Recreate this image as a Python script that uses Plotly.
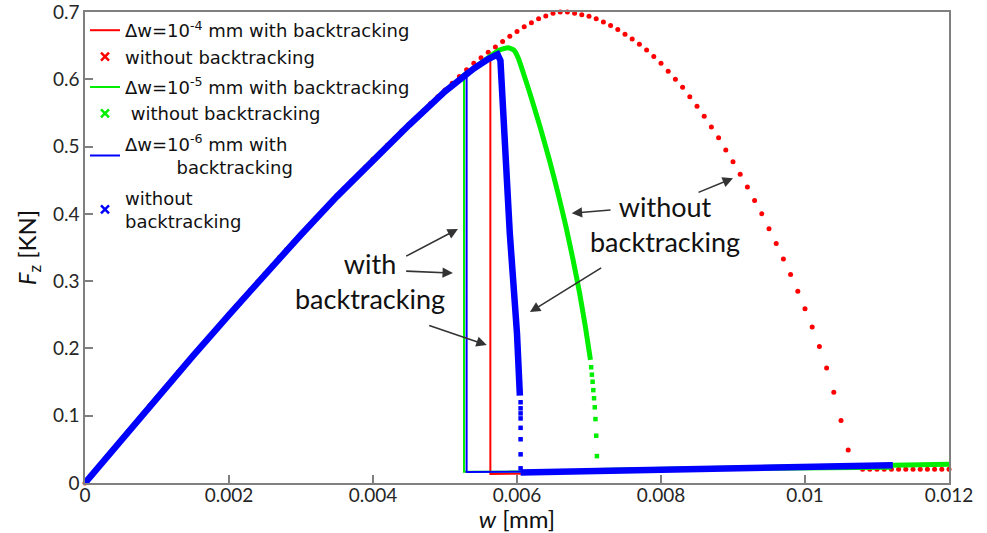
import plotly.graph_objects as go

# ---------------- data ----------------
# Δw = 1e-4 mm, without backtracking (dots every 1e-4 mm)
red_wo_w = [0.0000, 0.0001, 0.0002, 0.0003, 0.0004, 0.0005, 0.0006, 0.0007, 0.0008, 0.0009,
            0.0010, 0.0011, 0.0012, 0.0013, 0.0014, 0.0015, 0.0016, 0.0017, 0.0018, 0.0019,
            0.0020, 0.0021, 0.0022, 0.0023, 0.0024, 0.0025, 0.0026, 0.0027, 0.0028, 0.0029,
            0.0030, 0.0031, 0.0032, 0.0033, 0.0034, 0.0035, 0.0036, 0.0037, 0.0038, 0.0039,
            0.0040, 0.0041, 0.0042, 0.0043, 0.0044, 0.0045, 0.0046, 0.0047, 0.0048, 0.0049,
            0.0050, 0.0051, 0.0052, 0.0053, 0.0054, 0.0055, 0.0056, 0.0057, 0.0058, 0.0059,
            0.0060, 0.0061, 0.0062, 0.0063, 0.0064, 0.0065, 0.0066, 0.0067, 0.0068, 0.0069,
            0.0070, 0.0071, 0.0072, 0.0073, 0.0074, 0.0075, 0.0076, 0.0077, 0.0078, 0.0079,
            0.0080, 0.0081, 0.0082, 0.0083, 0.0084, 0.0085, 0.0086, 0.0087, 0.0088, 0.0089,
            0.0090, 0.0091, 0.0092, 0.0093, 0.0094, 0.0095, 0.0096, 0.0097, 0.0098, 0.0099,
            0.0100, 0.0101, 0.0102, 0.0103, 0.0104, 0.0105, 0.0106, 0.0107, 0.0108, 0.0109,
            0.0110, 0.0111, 0.0112, 0.0113, 0.0114, 0.0115, 0.0116, 0.0117, 0.0118, 0.0119,
            0.0120]
red_wo_F = [0.000, 0.012, 0.025, 0.038, 0.051, 0.064, 0.077, 0.089, 0.102, 0.115,
            0.127, 0.140, 0.152, 0.165, 0.177, 0.189, 0.202, 0.214, 0.226, 0.238,
            0.251, 0.263, 0.275, 0.287, 0.299, 0.311, 0.323, 0.335, 0.347, 0.358,
            0.370, 0.381, 0.393, 0.404, 0.415, 0.427, 0.438, 0.449, 0.459, 0.470,
            0.481, 0.491, 0.502, 0.512, 0.523, 0.533, 0.543, 0.553, 0.564, 0.574,
            0.584, 0.594, 0.604, 0.614, 0.624, 0.632, 0.640, 0.648, 0.656, 0.664,
            0.671, 0.678, 0.684, 0.690, 0.694, 0.698, 0.700, 0.700, 0.698, 0.696,
            0.6935, 0.690, 0.685, 0.680, 0.674, 0.667, 0.660, 0.652, 0.6435, 0.634,
            0.624, 0.612, 0.600, 0.588, 0.574, 0.560, 0.545, 0.529, 0.513, 0.495,
            0.4775, 0.459, 0.440, 0.420, 0.400, 0.378, 0.356, 0.333, 0.310, 0.285,
            0.259, 0.232, 0.203, 0.171, 0.135, 0.093, 0.049, 0.026, 0.0203, 0.0203,
            0.0203, 0.0203, 0.0203, 0.0203, 0.0203, 0.0203, 0.0203, 0.0203, 0.0203, 0.0203,
            0.0203]

# Δw = 1e-4 mm, with backtracking (thin line)
red_bt_w = [0, 0.001, 0.002, 0.003, 0.004, 0.005, 0.0054, 0.00563, 0.00563, 0.0060, 0.0065]
red_bt_F = [0, 0.127, 0.250, 0.369, 0.480, 0.582, 0.616, 0.634, 0.0134, 0.0137, 0.0142]

# Δw = 1e-5 mm, with backtracking (thin line)
green_bt_w = [0, 0.001, 0.002, 0.003, 0.004, 0.005, 0.005264, 0.005264, 0.006, 0.008, 0.010, 0.0112]
green_bt_F = [0, 0.127, 0.250, 0.369, 0.480, 0.582, 0.609, 0.0168, 0.0172, 0.0185, 0.0200, 0.0210]

# Δw = 1e-5 mm, without backtracking (dense points -> continuous band, sparse near the bottom)
green_wo_w = [0, 0.001, 0.002, 0.003, 0.004, 0.005, 0.0054, 0.0056, 0.00575, 0.00588, 0.00596,
              0.00602, 0.00608, 0.00618, 0.00632, 0.00645, 0.00657, 0.00668, 0.00678, 0.00687,
              0.00695, 0.00702]
green_wo_F = [0, 0.127, 0.250, 0.369, 0.480, 0.582, 0.616, 0.632, 0.643, 0.647, 0.643,
              0.631, 0.612, 0.579, 0.5295, 0.480, 0.4305, 0.381, 0.331, 0.282,
              0.232, 0.183]
green_wo_sparse_w = [0.00703, 0.00704, 0.00705, 0.00706, 0.00707, 0.00708, 0.00709, 0.00710, 0.00711]
green_wo_sparse_F = [0.172, 0.161, 0.1505, 0.138, 0.126, 0.1125, 0.095, 0.0703, 0.040]
green_wo_tail_w = [0.00712, 0.008, 0.009, 0.010, 0.011, 0.012]
green_wo_tail_F = [0.0185, 0.0205, 0.0225, 0.0245, 0.0268, 0.0278]

# Δw = 1e-6 mm, with backtracking (thin line)
blue_bt_w = [0, 0.001, 0.002, 0.003, 0.004, 0.005, 0.0053, 0.0053, 0.0060, 0.0065]
blue_bt_F = [0, 0.127, 0.250, 0.369, 0.480, 0.582, 0.612, 0.0165, 0.0168, 0.0172]

# Δw = 1e-6 mm, without backtracking
blue_wo_w = [0, 0.0005, 0.001, 0.0015, 0.002, 0.0025, 0.003, 0.0035, 0.004, 0.0045, 0.005,
             0.0052, 0.0054, 0.0056, 0.00568, 0.00573, 0.00577, 0.0058, 0.0059, 0.0060, 0.00604]
blue_wo_F = [0, 0.064, 0.127, 0.189, 0.250, 0.310, 0.369, 0.426, 0.480, 0.532, 0.582,
             0.600, 0.616, 0.630, 0.636, 0.637, 0.628, 0.565, 0.371, 0.222, 0.130]
blue_wo_sparse_w = [0.00605, 0.00605, 0.00605, 0.00605, 0.00605, 0.00605, 0.00605, 0.00605]
blue_wo_sparse_F = [0.120, 0.111, 0.1035, 0.096, 0.082, 0.065, 0.0426, 0.0218]
blue_wo_tail_w = [0.00605, 0.007, 0.008, 0.009, 0.010, 0.01122]
blue_wo_tail_F = [0.0156, 0.0175, 0.0195, 0.0215, 0.0238, 0.0265]

x_ticks = [0, 0.002, 0.004, 0.006, 0.008, 0.01, 0.012]
x_tick_labels = ["0", "0.002", "0.004", "0.006", "0.008", "0.01", "0.012"]
y_ticks = [0, 0.1, 0.2, 0.3, 0.4, 0.5, 0.6, 0.7]
y_tick_labels = ["0", "0.1", "0.2", "0.3", "0.4", "0.5", "0.6", "0.7"]

legend_names = [
    "Δw=10<sup>-4</sup> mm with backtracking",
    "without backtracking",
    "Δw=10<sup>-5</sup> mm with backtracking",
    "\u00a0without backtracking",
    "Δw=10<sup>-6</sup> mm with<br>\u00a0\u00a0\u00a0\u00a0\u00a0\u00a0\u00a0\u00a0\u00a0backtracking",
    "without<br>backtracking",
]
legend_groups = ["g1", "g1", "g2", "g2", "g3", "g4"]

RED, GREEN, BLUE = "#ff0000", "#00ee00", "#0000ff"
FONT = "Lato, 'Open Sans', sans-serif"
LEG_FONT = "'DejaVu Sans', Lato, sans-serif"

fig = go.Figure()

# red
fig.add_trace(go.Scatter(x=red_bt_w, y=red_bt_F, mode="lines", line=dict(color=RED, width=2),
                         name=legend_names[0], legendrank=1, legendgroup=legend_groups[0]))
fig.add_trace(go.Scatter(x=red_wo_w, y=red_wo_F, mode="markers", cliponaxis=False,
                         marker=dict(color=RED, size=5, symbol="circle"), showlegend=False))
fig.add_trace(go.Scatter(x=[None], y=[None], mode="markers", name=legend_names[1], legendrank=2,
                         legendgroup=legend_groups[1],
                         marker=dict(color=RED, size=8, symbol="x-thin", line=dict(color=RED, width=2.5))))
# green
fig.add_trace(go.Scatter(x=green_bt_w, y=green_bt_F, mode="lines", line=dict(color=GREEN, width=2),
                         name=legend_names[2], legendrank=3, legendgroup=legend_groups[2]))
fig.add_trace(go.Scatter(x=green_wo_w, y=green_wo_F, mode="lines",
                         line=dict(color=GREEN, width=5, shape="spline", smoothing=0.5),
                         showlegend=False))
fig.add_trace(go.Scatter(x=green_wo_sparse_w, y=green_wo_sparse_F, mode="markers",
                         marker=dict(color=GREEN, size=4.5, symbol="square"), showlegend=False))
fig.add_trace(go.Scatter(x=green_wo_tail_w, y=green_wo_tail_F, mode="lines",
                         line=dict(color=GREEN, width=5), showlegend=False))
fig.add_trace(go.Scatter(x=[None], y=[None], mode="markers", name=legend_names[3], legendrank=4,
                         legendgroup=legend_groups[3],
                         marker=dict(color=GREEN, size=8, symbol="x-thin", line=dict(color=GREEN, width=2.5))))
# blue
fig.add_trace(go.Scatter(x=blue_bt_w, y=blue_bt_F, mode="lines", line=dict(color=BLUE, width=2),
                         name=legend_names[4], legendrank=5, legendgroup=legend_groups[4]))
fig.add_trace(go.Scatter(x=blue_wo_w, y=blue_wo_F, mode="lines", line=dict(color=BLUE, width=6.5),
                         showlegend=False))
fig.add_trace(go.Scatter(x=blue_wo_sparse_w, y=blue_wo_sparse_F, mode="markers",
                         marker=dict(color=BLUE, size=4.5, symbol="square"), showlegend=False))
fig.add_trace(go.Scatter(x=blue_wo_tail_w, y=blue_wo_tail_F, mode="lines",
                         line=dict(color=BLUE, width=6.5), showlegend=False))
fig.add_trace(go.Scatter(x=[None], y=[None], mode="markers", name=legend_names[5], legendrank=6,
                         legendgroup=legend_groups[5],
                         marker=dict(color=BLUE, size=8, symbol="x-thin", line=dict(color=BLUE, width=2.5))))

# ---------------- annotations ----------------
arrows = [
    # (tip w, tip F, tail w, tail F)
    (0.00518, 0.3775, 0.00444, 0.336),
    (0.00511, 0.312, 0.00444, 0.315),
    (0.00558, 0.205, 0.00476, 0.235),
    (0.00676, 0.401, 0.00732, 0.406),
    (0.00618, 0.254, 0.00719, 0.321),
    (0.00900, 0.453, 0.00850, 0.431),
]
for tw, tf, aw, af in arrows:
    fig.add_annotation(x=tw, y=tf, ax=aw, ay=af, xref="x", yref="y", axref="x", ayref="y",
                       text="", showarrow=True, arrowhead=2, arrowsize=1.3, arrowwidth=1.6,
                       arrowcolor="#333333")

fig.add_annotation(x=0.00396, y=0.300, xref="x", yref="y", text="with<br>backtracking",
                   showarrow=False, font=dict(family=FONT, size=27, color="#111111"))
fig.add_annotation(x=0.00806, y=0.385, xref="x", yref="y", text="without<br>backtracking",
                   showarrow=False, font=dict(family=FONT, size=27, color="#111111"))

axis_common = dict(showgrid=False, zeroline=False, showline=True, linecolor="#808080",
                   linewidth=1.5, mirror=True, ticks="inside", ticklen=8, tickwidth=1.5,
                   tickcolor="#808080", automargin=False, ticklabeloverflow="allow",
                   tickfont=dict(family=FONT, size=19, color="#262626"))

fig.update_layout(
    width=987, height=533,
    margin=dict(l=85, r=38, t=12, b=50),
    paper_bgcolor="white", plot_bgcolor="white",
    xaxis=dict(range=[0, 0.012], tickvals=x_ticks, ticktext=x_tick_labels, ticklabelstandoff=-6,
               title=dict(text="<i>w</i> [mm]", font=dict(family=FONT, size=24, color="#111111"),
                          standoff=0),
               **axis_common),
    yaxis=dict(range=[0, 0.7], tickvals=y_ticks, ticktext=y_tick_labels,
               title=dict(text="<i>F</i><sub>z</sub> [KN]", font=dict(family=FONT, size=24, color="#111111"),
                          standoff=10),
               **axis_common),
    legend=dict(x=0, y=1.0, xanchor="left", yanchor="top", bgcolor="rgba(0,0,0,0)",
                font=dict(family=LEG_FONT, size=18, color="#111111"), traceorder="grouped",
                itemwidth=30, tracegroupgap=4),
    showlegend=True,
)

fig.write_html("out.html", config={"displayModeBar": False},
               post_script="document.body.style.margin='0';")
